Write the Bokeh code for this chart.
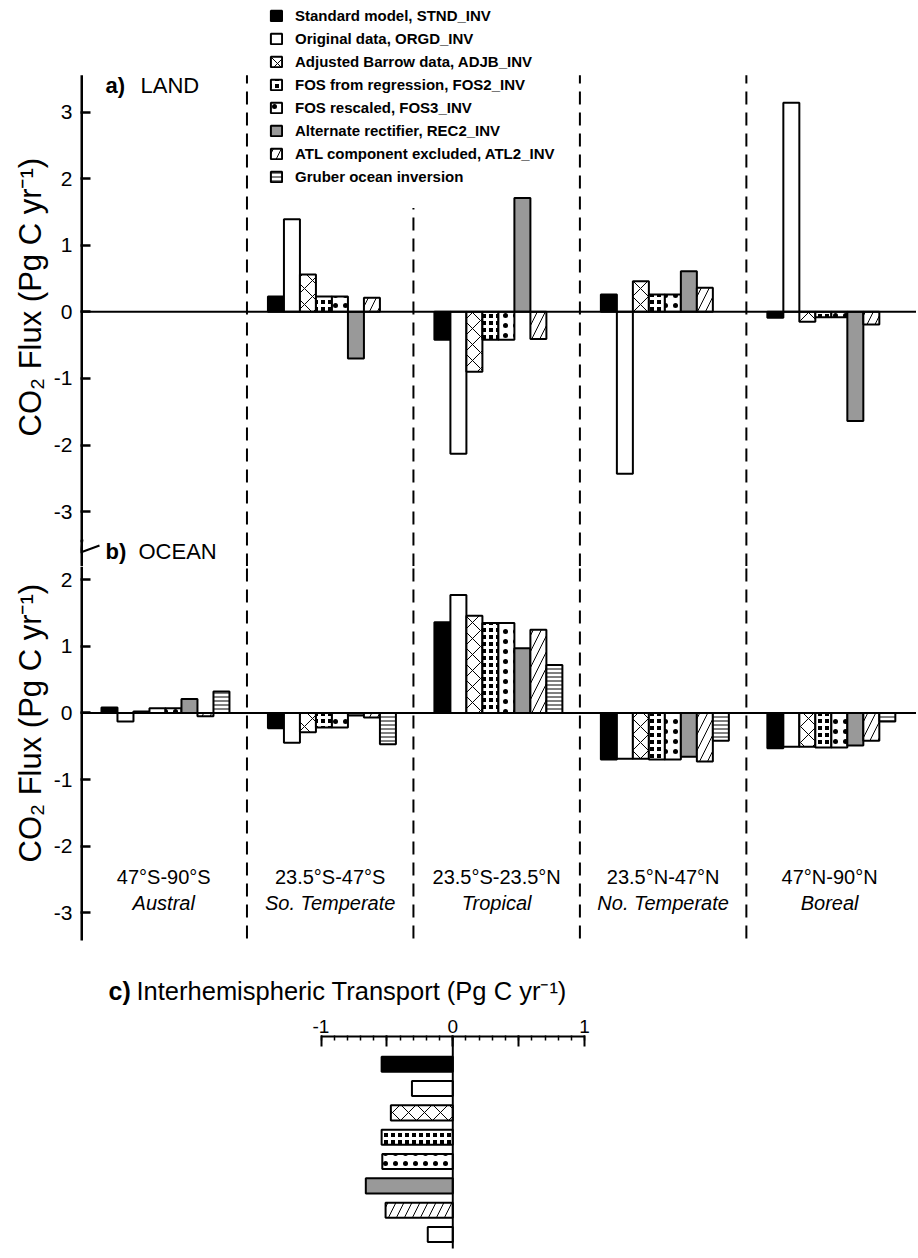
import math
from bokeh.plotting import figure
from bokeh.models import (Range1d, FixedTicker, Span, Label, Legend, LegendItem,
                          ColumnDataSource, Title)
from bokeh.layouts import column
from bokeh.embed import file_html
from bokeh.resources import INLINE
from bokeh.core.properties import value

FONT = "Liberation Sans"

# ---------------- data ----------------
regions = ["47°S-90°S", "23.5°S-47°S", "23.5°S-23.5°N", "23.5°N-47°N", "47°N-90°N"]
region_names = ["Austral", "So. Temperate", "Tropical", "No. Temperate", "Boreal"]
series = ["Standard model, STND_INV", "Original data, ORGD_INV",
          "Adjusted Barrow data, ADJB_INV", "FOS from regression, FOS2_INV",
          "FOS rescaled, FOS3_INV", "Alternate rectifier, REC2_INV",
          "ATL component excluded, ATL2_INV", "Gruber ocean inversion"]

land_stnd = [None, 0.23, -0.42, 0.26, -0.09]
land_orgd = [None, 1.39, -2.13, -2.43, 3.14]
land_adjb = [None, 0.56, -0.90, 0.46, -0.15]
land_fos2 = [None, 0.23, -0.42, 0.26, -0.08]
land_fos3 = [None, 0.23, -0.42, 0.26, -0.08]
land_rec2 = [None, -0.70, 1.71, 0.61, -1.64]
land_atl2 = [None, 0.21, -0.41, 0.36, -0.19]
land_grub = [None, None, None, None, None]

ocean_stnd = [0.08, -0.23, 1.36, -0.70, -0.53]
ocean_orgd = [-0.13, -0.45, 1.77, -0.69, -0.51]
ocean_adjb = [0.02, -0.29, 1.46, -0.69, -0.51]
ocean_fos2 = [0.07, -0.22, 1.35, -0.70, -0.52]
ocean_fos3 = [0.07, -0.22, 1.35, -0.70, -0.52]
ocean_rec2 = [0.21, -0.04, 0.97, -0.66, -0.49]
ocean_atl2 = [-0.05, -0.07, 1.25, -0.73, -0.42]
ocean_grub = [0.32, -0.47, 0.72, -0.42, -0.13]

transport = [-0.54, -0.31, -0.47, -0.54, -0.535, -0.66, -0.51, -0.19]

land_values = [land_stnd, land_orgd, land_adjb, land_fos2, land_fos3, land_rec2, land_atl2, land_grub]
ocean_values = [ocean_stnd, ocean_orgd, ocean_adjb, ocean_fos2, ocean_fos3, ocean_rec2, ocean_atl2, ocean_grub]

land_ticks = [-3, -2, -1, 0, 1, 2, 3]
ocean_ticks = [-3, -2, -1, 0, 1, 2]

# ---------------- styles ----------------
styles = [
    dict(fill_color="black"),
    dict(fill_color="white"),
    dict(fill_color="white", hatch_pattern="x", hatch_scale=16, hatch_weight=1, hatch_color="black"),
    dict(fill_color="black", hatch_pattern="+", hatch_scale=7, hatch_weight=3, hatch_color="white"),
    dict(fill_color="white", hatch_pattern=".", hatch_scale=10, hatch_weight=4, hatch_color="black"),
    dict(fill_color="#999999"),
    dict(fill_color="white", hatch_pattern="/", hatch_scale=16, hatch_weight=1, hatch_color="black"),
    dict(fill_color="white", hatch_pattern="-", hatch_scale=4, hatch_weight=1, hatch_color="black"),
]
c_styles = list(styles)
c_styles[7] = dict(fill_color="white")

X0 = 0.126     # offset of first bar inside a region
BW = 0.0961    # bar width (one region = 1 unit)
DASH = "13 8"
W = 916
LEFT = 80
XR = Range1d(0, 5.022)
SPLIT = 566    # page y where panel a's canvas ends and panel b's begins

# pixel helpers for the decorations (page px -> data units)
LAND_Z, OCEAN_Z, PPU = 311.3, 712.4, 66.6


def land_y(py):
    return (LAND_Z - py) / PPU


def ocean_y(py):
    return (OCEAN_Z - py) / PPU


def px_x(px):
    return (px - LEFT) / 166.5


def hyphen_labels(ticks):
    return {t: str(t) for t in ticks if t < 0}


def style_panel(p, ticks):
    p.grid.visible = False
    p.outline_line_color = None
    ax = p.yaxis[0]
    ax.ticker = FixedTicker(ticks=ticks, minor_ticks=[])
    ax.major_label_overrides = hyphen_labels(ticks)
    ax.axis_line_color = None
    ax.major_tick_line_width = 2.5
    ax.major_tick_in = 10
    ax.major_tick_out = 0
    ax.major_label_standoff = 8
    ax.major_label_text_font = FONT
    ax.major_label_text_font_size = "21px"
    ax.major_label_text_color = "black"


def add_bars(p, values_list, keep_empty=False):
    rends = []
    for k, vals in enumerate(values_list):
        xs = [i + X0 + BW * (k + 0.5) for i, v in enumerate(vals) if v is not None]
        tops = [v for v in vals if v is not None]
        if not xs and keep_empty:
            xs, tops = [0.5], [float("nan")]
        src = ColumnDataSource(dict(x=xs, top=tops))
        r = p.vbar(x="x", top="top", bottom=0, width=BW, source=src,
                   line_color="black", line_width=2, **styles[k])
        rends.append(r)
    return rends


def ylabel(p, offset):
    p.add_layout(Title(text="CO₂ Flux (Pg C yr⁻¹)", align="left", offset=offset,
                       text_font=FONT, text_font_size="31px", text_font_style="normal",
                       text_color="black", standoff=6), "left")


def txt_label(p, x, y, text, size, bold=False):
    p.add_layout(Label(x=x, y=y, text=text, text_font=FONT,
                       text_font_style="bold" if bold else "normal", text_color="black",
                       text_font_size=size, text_baseline="middle", text_align="left"))


# ---------------- panel a: land ----------------
land_lo, land_hi = land_y(SPLIT), land_y(0)
axis_top = 3.55
pa = figure(width=W, height=SPLIT, x_range=XR, y_range=Range1d(land_lo, land_hi),
            x_axis_location=None, toolbar_location=None, output_backend="svg",
            min_border_left=LEFT, min_border_right=0, min_border_top=0, min_border_bottom=0)
style_panel(pa, land_ticks)
ylabel(pa, SPLIT - 436)
pa.segment(x0=[0], x1=[0], y0=[land_lo], y1=[axis_top], line_color="black", line_width=5)
pa.add_layout(Span(location=0, dimension="width", line_color="black", line_width=2))
div_x = [1, 2, 3, 4]
pa.segment(x0=div_x, x1=div_x, y0=[land_lo] * 4, y1=[axis_top, 1.56, axis_top, axis_top],
           line_color="black", line_width=2, line_dash=DASH)
land_r = add_bars(pa, land_values, keep_empty=True)

legend = Legend(items=[LegendItem(label=series[k], renderers=[land_r[k]]) for k in range(8)],
                location=(189, SPLIT - 5 - 181), glyph_width=14, glyph_height=13,
                label_standoff=12, spacing=3, label_height=20, padding=0, margin=0,
                border_line_color=None, background_fill_alpha=0,
                label_text_font=FONT, label_text_font_style="bold",
                label_text_font_size="15px", label_text_color="black")
pa.add_layout(legend)

txt_label(pa, px_x(105), land_y(85), "a)", "22px", bold=True)
txt_label(pa, px_x(140), land_y(85), "LAND", "22px")
txt_label(pa, px_x(105), land_y(551), "b)", "22px", bold=True)
txt_label(pa, px_x(138), land_y(551), "OCEAN", "22px")

# axis break mark
bk_px = [(72, 547), (82, 539), (80, 552), (99, 545)]
pa.line(x=[px_x(a) for a, b in bk_px], y=[land_y(b) for a, b in bk_px],
        line_color="black", line_width=2)

# ---------------- panel b: ocean ----------------
OC_BOTTOM = 1008
oc_lo, oc_hi = ocean_y(OC_BOTTOM), ocean_y(SPLIT)
oc_axis_lo = ocean_y(940)
pb = figure(width=W, height=OC_BOTTOM - SPLIT, x_range=XR, y_range=Range1d(oc_lo, oc_hi),
            x_axis_location=None, toolbar_location=None, output_backend="svg",
            min_border_left=LEFT, min_border_right=0, min_border_top=0, min_border_bottom=0)
style_panel(pb, ocean_ticks)
ylabel(pb, OC_BOTTOM - 862)
pb.segment(x0=[0], x1=[0], y0=[oc_axis_lo], y1=[oc_hi], line_color="black", line_width=5)
pb.add_layout(Span(location=0, dimension="width", line_color="black", line_width=2))
pb.segment(x0=div_x, x1=div_x, y0=[ocean_y(938)] * 4, y1=[oc_hi] * 4,
           line_color="black", line_width=2, line_dash=DASH)
add_bars(pb, ocean_values)

cx = [i + 0.5 for i in range(5)]
pb.text(x=cx, y=[ocean_y(876)] * 5, text=regions, text_align="center", text_baseline="middle",
        text_font=value(FONT), text_font_size="20px", text_color="black")
pb.text(x=cx, y=[ocean_y(902)] * 5, text=region_names, text_align="center", text_baseline="middle",
        text_font=value(FONT), text_font_size="20px", text_font_style="italic", text_color="black")

txt_label(pb, px_x(108), ocean_y(990), "c)", "25px", bold=True)
txt_label(pb, px_x(136), ocean_y(990), "Interhemispheric Transport (Pg C yr⁻¹)", "25.5px")

# ---------------- panel c: interhemispheric transport ----------------
CPX = 131.8            # px per unit
C0 = 452.3             # page x of zero
ROW = 24.32            # px per bar row
c_top = -(1063.7 - 1035) / ROW
c_bot = 7 + (1256 - 1234) / ROW
pc = figure(width=W, height=1256 - OC_BOTTOM,
            x_range=Range1d(-(C0 - LEFT) / CPX, (W - C0) / CPX),
            y_range=Range1d(c_bot, c_top),
            x_axis_location="above", y_axis_location=None, toolbar_location=None,
            output_backend="svg", min_border_left=LEFT, min_border_right=0,
            min_border_top=1035 - OC_BOTTOM, min_border_bottom=0)
pc.grid.visible = False
pc.outline_line_color = None
xa = pc.xaxis[0]
xa.ticker = FixedTicker(ticks=[-1, -0.5, 0, 0.5, 1],
                        minor_ticks=[round(-1 + 0.1 * i, 1) for i in range(21)])
xa.major_label_overrides = {-1: "-1", -0.5: "", 0.5: ""}
xa.axis_line_color = None
xa.major_tick_line_width = 2
xa.minor_tick_line_width = 1.5
xa.major_tick_in = 11
xa.major_tick_out = 0
xa.minor_tick_in = 5
xa.minor_tick_out = 0
xa.major_label_standoff = 3
xa.major_label_text_font = FONT
xa.major_label_text_font_size = "19px"
xa.major_label_text_color = "black"
pc.segment(x0=[-1], x1=[1], y0=[c_top], y1=[c_top], line_color="black", line_width=4)

for k in range(8):
    pc.hbar(y=[k], left=[transport[k]], right=[0], height=0.62,
            line_color="black", line_width=2, **c_styles[k])
pc.segment(x0=[0], x1=[0], y0=[c_top], y1=[7 + (1248 - 1234) / ROW],
           line_color="black", line_width=2)

layout = column(pa, pb, pc, spacing=0)
open("out.html", "w").write(file_html(layout, INLINE))
